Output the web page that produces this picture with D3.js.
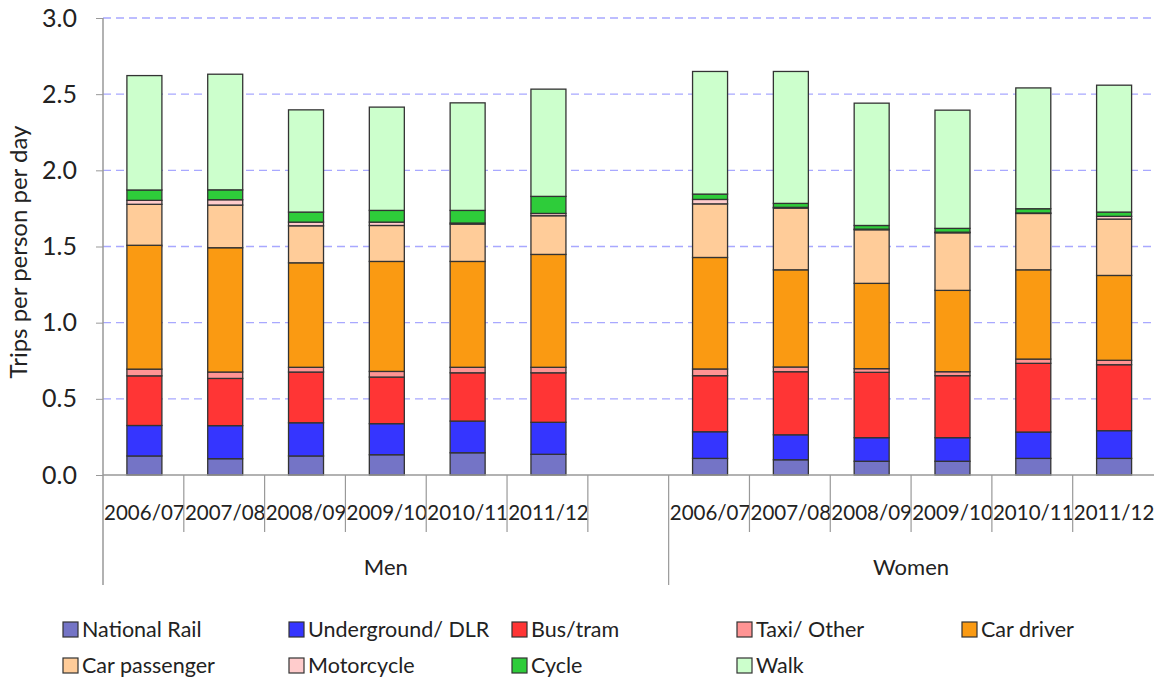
<!DOCTYPE html>
<html><head><meta charset="utf-8">
<script src="https://cdn.jsdelivr.net/npm/d3@7"></script>
<style>body{margin:0;background:#fff}svg{display:block}text{font-family:Lato,"Open Sans",sans-serif;fill:#222}</style>
</head><body><svg id="c" width="1154" height="679"></svg>
<script>
const years = ["2006/07","2007/08","2008/09","2009/10","2010/11","2011/12"];
const groups = ["Men","Women"];
const modes = ["National Rail","Underground/ DLR","Bus/tram","Taxi/ Other","Car driver","Car passenger","Motorcycle","Cycle","Walk"];
const colors = ["#7474c6","#3535ff","#ff3535","#ff9494","#fa9a12","#ffcc99","#ffcccc","#2ecc3a","#ccffcc"];
const yTicks = [0,0.5,1.0,1.5,2.0,2.5,3.0];
// values per mode, in order: Men 2006/07..2011/12, Women 2006/07..2011/12
const nationalRail = [0.125,0.107,0.125,0.133,0.146,0.136, 0.109,0.100,0.090,0.090,0.109,0.109];
const underground  = [0.200,0.217,0.218,0.204,0.208,0.210, 0.175,0.164,0.155,0.155,0.173,0.182];
const busTram      = [0.326,0.310,0.333,0.306,0.317,0.325, 0.368,0.414,0.429,0.407,0.451,0.433];
const taxiOther    = [0.044,0.042,0.031,0.037,0.036,0.036, 0.044,0.031,0.024,0.026,0.028,0.029];
const carDriver    = [0.813,0.816,0.686,0.722,0.695,0.741, 0.732,0.638,0.560,0.534,0.586,0.557];
const carPassenger = [0.269,0.280,0.243,0.236,0.245,0.254, 0.352,0.405,0.352,0.378,0.370,0.370];
const motorcycle   = [0.026,0.035,0.024,0.022,0.007,0.015, 0.029,0.005,0.004,0.004,0.003,0.018];
const cycle        = [0.068,0.065,0.066,0.077,0.083,0.112, 0.035,0.026,0.024,0.025,0.028,0.028];
const walk         = [0.751,0.759,0.671,0.678,0.706,0.704, 0.805,0.866,0.803,0.776,0.793,0.833];
const series = [nationalRail,underground,busTram,taxiOther,carDriver,carPassenger,motorcycle,cycle,walk];

const svg = d3.select("#c");
const pL = 103, pR = 1153.5, pT = 18, pB = 475;
// slots: 6 men years, a gap, 6 women years
const slots = [...years.map(v=>"Men|"+v), "gap", ...years.map(v=>"Women|"+v)];
const x = d3.scaleBand().domain(slots).range([pL,pR]).padding(0);
const y = d3.scaleLinear().domain([0,3]).range([pB,pT]);
const barW = 35;

// gridlines
svg.append("g").selectAll("line").data(yTicks.filter(d=>d>0)).join("line")
  .attr("x1",pL).attr("x2",1154).attr("y1",d=>y(d)).attr("y2",d=>y(d))
  .attr("stroke","#a8a8ff").attr("stroke-width",1.3).attr("stroke-dasharray","8,5");

// y axis
const ya = svg.append("g").attr("transform",`translate(${pL},0)`)
  .call(d3.axisLeft(y).tickValues(yTicks).tickFormat(d3.format(".1f")).tickSize(7).tickPadding(19));
ya.select(".domain").remove();
ya.selectAll("line").attr("stroke","#999");
ya.selectAll("text").style("font-size","25px").attr("fill","#222");

// stacked bars
const rows = slots.map((s,i)=>{ if(s==="gap") return null; const k = i<6?i:i-1; const o={slot:s}; modes.forEach((m,j)=>o[m]=series[j][k]); return o;}).filter(Boolean);
const stack = d3.stack().keys(modes)(rows);
svg.append("g").selectAll("g").data(stack).join("g")
  .attr("fill",(d,i)=>colors[i])
  .selectAll("rect").data(d=>d).join("rect")
  .attr("x",d=>x(d.data.slot)+x.bandwidth()/2-barW/2+1).attr("width",barW)
  .attr("y",d=>y(d[1])).attr("height",d=>y(d[0])-y(d[1]))
  .attr("stroke","#333").attr("stroke-width",1.3);

// axes lines
svg.append("line").attr("x1",pL).attr("x2",1154).attr("y1",pB).attr("y2",pB).attr("stroke","#999").attr("stroke-width",1.5);
svg.append("line").attr("x1",pL).attr("x2",pL).attr("y1",pT).attr("y2",585).attr("stroke","#999").attr("stroke-width",1.5);

// category ticks & labels
slots.forEach((s,i)=>{
  const x0 = x(s), x1 = x0 + x.bandwidth();
  if(s!=="gap"){
    svg.append("text").attr("x",(x0+x1)/2+1).attr("y",520).attr("text-anchor","middle").style("font-size","20.5px").text(s.split("|")[1]);
  }
  if(i<slots.length-1){
    const isSep = slots[i+1]==="Women|"+years[0];
    svg.append("line").attr("x1",x1).attr("x2",x1).attr("y1",pB).attr("y2",isSep?585:532).attr("stroke","#999").attr("stroke-width",1.2);
  }
});
// group labels
svg.append("text").attr("x",(pL+x("gap")+x.bandwidth())/2).attr("y",575).attr("text-anchor","middle").style("font-size","22px").text(groups[0]);
svg.append("text").attr("x",(x("Women|"+years[0])+pR)/2).attr("y",575).attr("text-anchor","middle").style("font-size","22px").text(groups[1]);

// y title
svg.append("text").attr("transform","translate(27,252) rotate(-90)").attr("text-anchor","middle").style("font-size","24px").text("Trips per person per day");

// legend
const colX = [63,289,512,737,962];
const leg = svg.append("g").selectAll("g").data(modes).join("g")
  .attr("transform",(d,i)=>`translate(${colX[i%5]},${i<5?630:666})`);
leg.append("rect").attr("x",0).attr("y",-8).attr("width",15).attr("height",15).attr("fill",(d,i)=>colors[i]).attr("stroke","#333").attr("stroke-width",1.2);
leg.append("text").attr("x",19).attr("y",7).style("font-size","21.5px").text(d=>d);
</script></body></html>
